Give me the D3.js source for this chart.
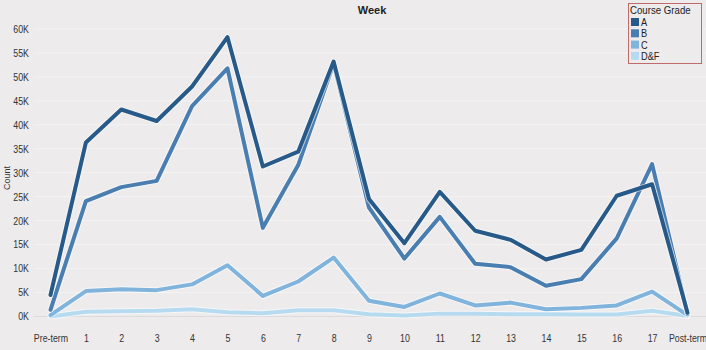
<!DOCTYPE html>
<html>
<head>
<meta charset="utf-8">
<script src="https://cdn.jsdelivr.net/npm/d3@7"></script>
<style>
  html, body { margin: 0; padding: 0; background: #edebec; }
  svg { display: block; font-family: "Liberation Sans", Arial, sans-serif; }
</style>
</head>
<body>
<svg id="chart" width="706" height="350"></svg>
<script>
// Weekly counts by course grade
const weeks = ["Pre-term","1","2","3","4","5","6","7","8","9","10","11","12","13","14","15","16","17","Post-term"];
const grades = ["A","B","C","D&F"];
const gradeA  = [4500, 36300, 43200, 40800, 48000, 58300, 31300, 34400, 53200, 24500, 15300, 26000, 17900, 16000, 11900, 13900, 25200, 27600, 800];
const gradeB  = [1400, 24100, 27000, 28300, 43900, 51800, 18500, 31600, 52800, 22700, 12100, 20800, 11000, 10300, 6400, 7800, 16300, 31800, 500];
const gradeC  = [300, 5300, 5700, 5500, 6700, 10700, 4300, 7300, 12300, 3300, 2000, 4800, 2300, 2900, 1500, 1800, 2300, 5200, 300];
const gradeDF = [0, 1000, 1100, 1200, 1500, 900, 700, 1300, 1300, 450, 200, 600, 600, 450, 450, 400, 400, 1200, 100];
const yTicks = [0, 5000, 10000, 15000, 20000, 25000, 30000, 35000, 40000, 45000, 50000, 55000, 60000];

const seriesValues = [gradeA, gradeB, gradeC, gradeDF];
const colors = ["#285a89", "#4a7eb0", "#80b4dc", "#b6dbf1"];
const narrow = "scale(0.84,1)";

const svg = d3.select("#chart");
const plot = { left: 34, right: 706, top: 29, bottom: 316.5 };

const x = d3.scalePoint().domain(weeks).range([50.5, 687.5]);
const y = d3.scaleLinear().domain([0, 60000]).range([plot.bottom, plot.top]);

// gridlines
svg.append("g")
  .selectAll("line")
  .data(yTicks)
  .join("line")
  .attr("x1", plot.left).attr("x2", plot.right)
  .attr("y1", d => y(d)).attr("y2", d => y(d))
  .attr("stroke", d => d === 0 ? "#dcdadb" : "#f4f3f3")
  .attr("stroke-width", 1);

// y axis labels
const yAxis = d3.axisLeft(y).tickValues(yTicks).tickSize(0).tickPadding(0)
  .tickFormat(d => (d / 1000) + "K");
const gy = svg.append("g").attr("transform", "translate(29,0)").call(yAxis);
gy.select(".domain").remove();
gy.selectAll("text").attr("font-size", 10.5).attr("fill", "#333").attr("font-family", null)
  .attr("transform", narrow);

// x axis labels
const xAxis = d3.axisBottom(x).tickSize(0).tickPadding(0);
const gx = svg.append("g").attr("transform", "translate(0,335)").call(xAxis);
gx.select(".domain").remove();
gx.selectAll("text").attr("font-size", 10.5).attr("fill", "#333").attr("font-family", null)
  .attr("transform", narrow);

// axis titles
svg.append("text").attr("x", 372).attr("y", 14).attr("text-anchor", "middle")
  .attr("font-size", 11).attr("font-weight", "bold").attr("fill", "#222").text("Week");
svg.append("text").attr("transform", "translate(10,178) rotate(-90)").attr("text-anchor", "middle")
  .attr("font-size", 9).attr("fill", "#333").text("Count");

// lines, lightest drawn first
const line = d3.line().x((d, i) => x(weeks[i])).y(d => y(d)).curve(d3.curveLinear);
const order = [3, 2, 1, 0];
const lines = svg.append("g");
order.forEach(k => {
  lines.append("path").datum(seriesValues[k])
    .attr("d", line).attr("fill", "none")
    .attr("stroke", "#ffffff").attr("stroke-opacity", 0.6)
    .attr("stroke-width", 6).attr("stroke-linejoin", "round").attr("stroke-linecap", "round");
  lines.append("path").datum(seriesValues[k])
    .attr("d", line).attr("fill", "none")
    .attr("stroke", colors[k]).attr("stroke-width", 4)
    .attr("stroke-linejoin", "round").attr("stroke-linecap", "round");
});

// legend
const lg = svg.append("g").attr("transform", "translate(628,3)");
lg.append("rect").attr("x", 0.5).attr("y", 0.5).attr("width", 73).attr("height", 60)
  .attr("fill", "#edebec").attr("stroke", "#c06a6a").attr("stroke-width", 1);
lg.append("text").attr("transform", "translate(2,11) " + narrow).attr("font-size", 11.5)
  .attr("fill", "#222").text("Course Grade");
grades.forEach((g, i) => {
  lg.append("rect").attr("x", 3).attr("y", 15 + i * 11.3).attr("width", 8).attr("height", 8).attr("fill", colors[i]);
  lg.append("text").attr("transform", `translate(13,${23 + i * 11.3}) ${narrow}`).attr("font-size", 11)
    .attr("fill", "#222").text(g);
});
</script>
</body>
</html>
